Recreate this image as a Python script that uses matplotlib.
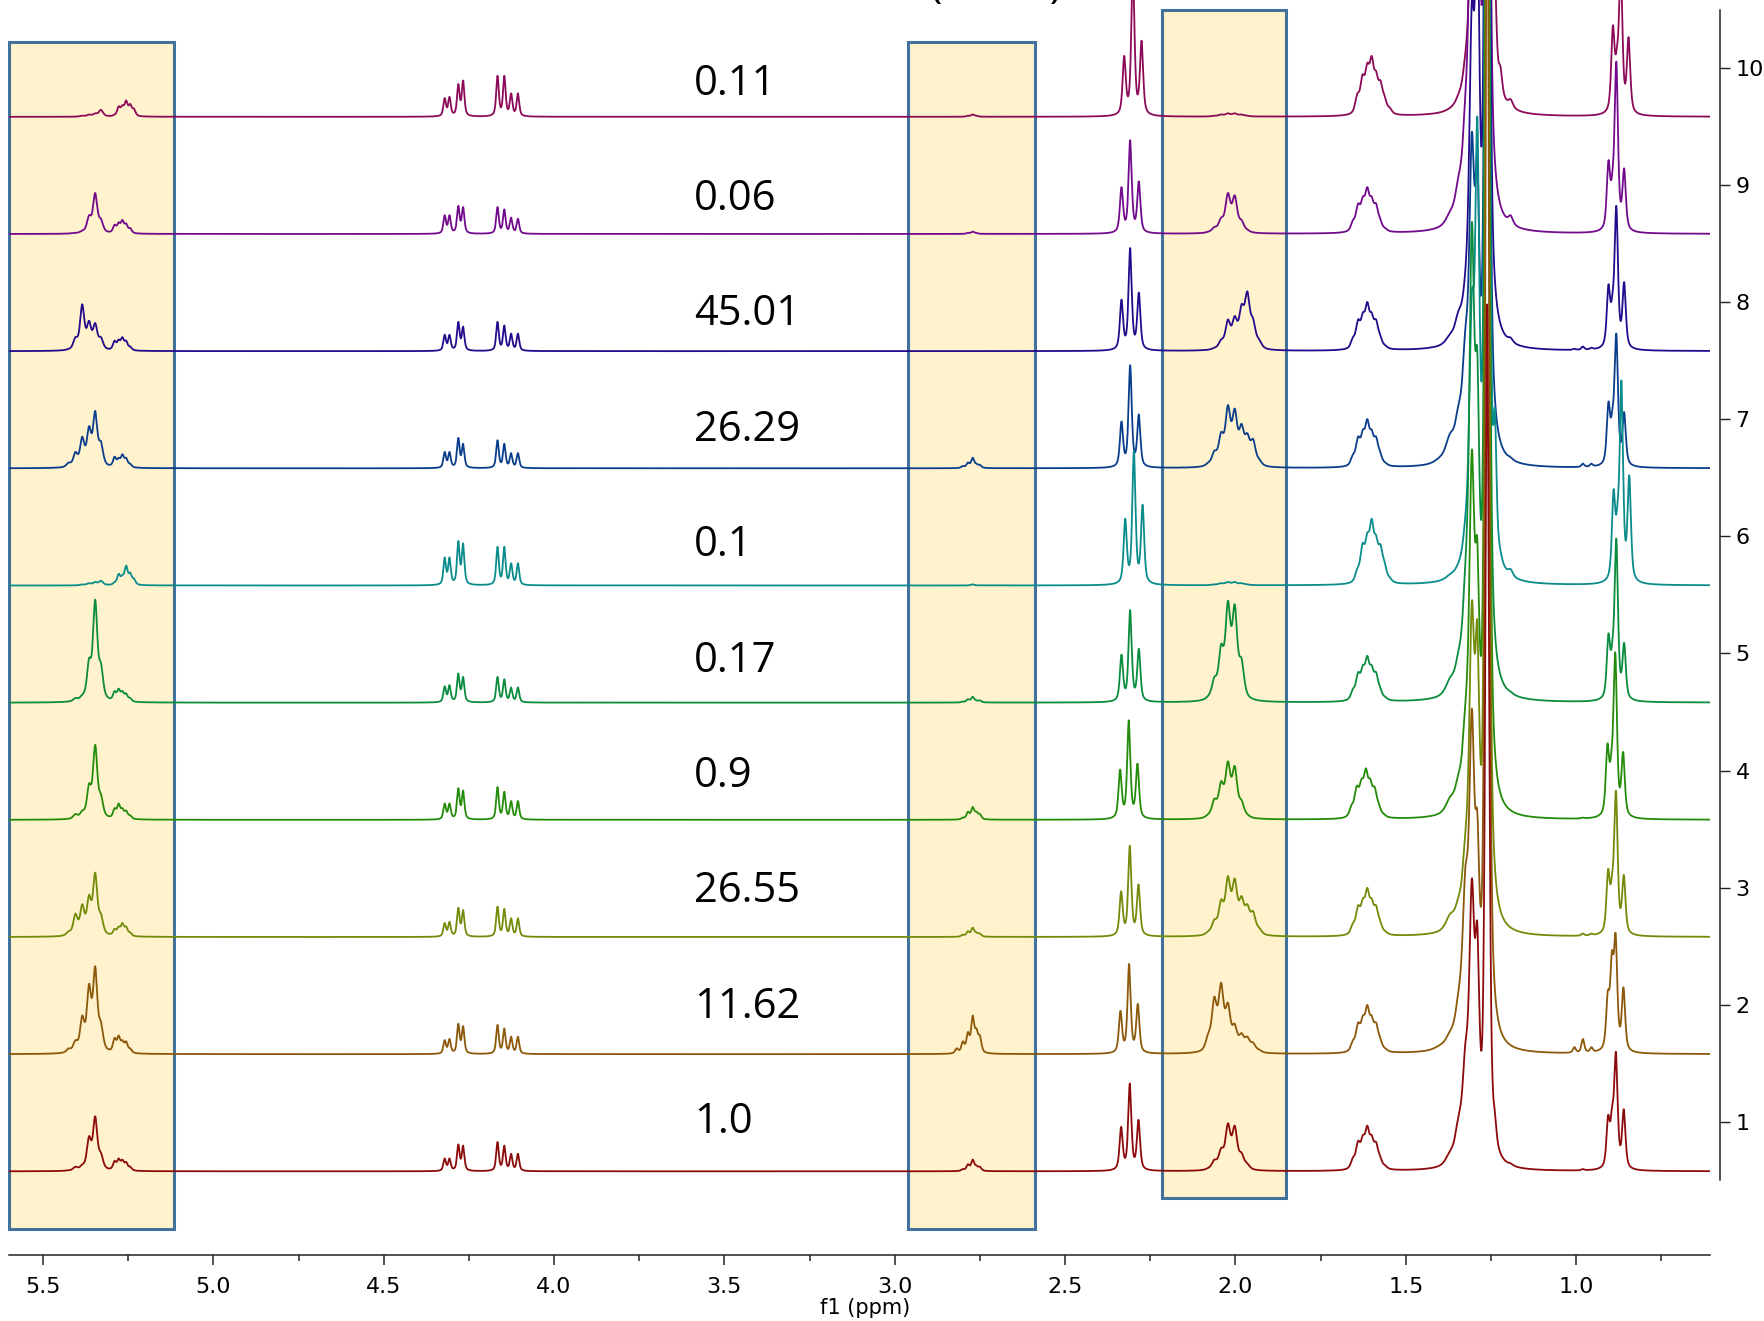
import numpy as np
import matplotlib
matplotlib.use("Agg")
import matplotlib.pyplot as plt
from matplotlib.patches import Rectangle
from matplotlib.ticker import MultipleLocator, FormatStrFormatter

# ---------------------------------------------------------------------------
# Stacked 1H NMR traces, listed from the bottom trace (1) to the top trace (10)
# ---------------------------------------------------------------------------
sample_values = ["1.0", "11.62", "26.55", "0.9", "0.17", "0.1", "26.29", "45.01", "0.06", "0.11"]
trace_colors = ["#8C0A0A", "#8C580A", "#728C0A", "#248C0A", "#0A8C3E",
                "#0A8C8C", "#0A3E8C", "#240A8C", "#720A8C", "#8C0A58"]

# olefinic CH=CH (5.3-5.4) and glycerol sn-2 CH (5.23-5.29): shifts and heights
olefin_ppm = [5.425, 5.405, 5.385, 5.365, 5.347, 5.33, 5.29, 5.278, 5.267, 5.256, 5.244, 5.233]
olefin_int = [
    [0.01, 0.04, 0.06, 0.30, 0.47, 0.16, 0.09, 0.11, 0.10, 0.08, 0.04, 0.01],
    [0.05, 0.12, 0.33, 0.60, 0.75, 0.28, 0.14, 0.16, 0.12, 0.11, 0.05, 0.01],
    [0.05, 0.20, 0.28, 0.36, 0.55, 0.20, 0.07, 0.09, 0.12, 0.09, 0.04, 0.01],
    [0.01, 0.05, 0.08, 0.31, 0.64, 0.22, 0.10, 0.14, 0.10, 0.08, 0.04, 0.01],
    [0.01, 0.04, 0.07, 0.38, 0.88, 0.34, 0.10, 0.12, 0.10, 0.08, 0.04, 0.01],
    [0.00, 0.00, 0.01, 0.02, 0.03, 0.04, 0.03, 0.10, 0.09, 0.17, 0.11, 0.06],
    [0.05, 0.14, 0.27, 0.36, 0.49, 0.23, 0.10, 0.09, 0.12, 0.09, 0.04, 0.01],
    [0.02, 0.12, 0.40, 0.26, 0.24, 0.12, 0.09, 0.10, 0.12, 0.09, 0.04, 0.01],
    [0.00, 0.01, 0.03, 0.16, 0.35, 0.13, 0.08, 0.10, 0.12, 0.09, 0.05, 0.01],
    [0.00, 0.00, 0.01, 0.02, 0.03, 0.06, 0.02, 0.09, 0.10, 0.14, 0.11, 0.07],
]

# glycerol sn-1,3 CH2 (two doublets of doublets)
glycerol_ppm = [4.321, 4.307, 4.281, 4.267, 4.166, 4.146, 4.126, 4.106]
glycerol_int = [
    [0.11, 0.11, 0.23, 0.22, 0.25, 0.22, 0.15, 0.15],
    [0.12, 0.13, 0.26, 0.24, 0.25, 0.22, 0.15, 0.15],
    [0.12, 0.13, 0.25, 0.23, 0.26, 0.24, 0.16, 0.16],
    [0.14, 0.14, 0.27, 0.25, 0.28, 0.24, 0.16, 0.16],
    [0.14, 0.15, 0.25, 0.22, 0.22, 0.20, 0.13, 0.13],
    [0.24, 0.24, 0.38, 0.36, 0.33, 0.33, 0.19, 0.19],
    [0.14, 0.14, 0.26, 0.21, 0.24, 0.21, 0.13, 0.13],
    [0.14, 0.14, 0.25, 0.21, 0.25, 0.22, 0.15, 0.15],
    [0.16, 0.16, 0.24, 0.23, 0.23, 0.21, 0.14, 0.13],
    [0.16, 0.17, 0.28, 0.31, 0.35, 0.35, 0.20, 0.20],
]

# bis-allylic CH2 (~2.77)
bisallyl_ppm = [2.818, 2.80, 2.785, 2.771, 2.76, 2.75]
bisallyl_int = [
    [0.00, 0.02, 0.06, 0.10, 0.05, 0.04],
    [0.05, 0.11, 0.19, 0.33, 0.22, 0.16],
    [0.00, 0.02, 0.05, 0.08, 0.04, 0.03],
    [0.00, 0.02, 0.07, 0.11, 0.07, 0.05],
    [0.00, 0.01, 0.03, 0.05, 0.02, 0.02],
    [0.00, 0.00, 0.00, 0.01, 0.00, 0.00],
    [0.00, 0.02, 0.05, 0.09, 0.04, 0.03],
    [0.00, 0.00, 0.00, 0.00, 0.00, 0.00],
    [0.00, 0.00, 0.01, 0.02, 0.01, 0.00],
    [0.00, 0.00, 0.01, 0.02, 0.01, 0.00],
]

# CH2-COO triplet (~2.31): centre shift per trace, line heights (low-field, centre, high-field)
ester_center = [2.310, 2.312, 2.310, 2.313, 2.309, 2.298, 2.309, 2.309, 2.309, 2.301]
ester_split = [0.0255, 0.0, -0.0255]
ester_int = [
    [0.38, 0.75, 0.44],
    [0.37, 0.77, 0.43],
    [0.39, 0.78, 0.45],
    [0.43, 0.85, 0.48],
    [0.41, 0.79, 0.46],
    [0.57, 1.15, 0.69],
    [0.40, 0.88, 0.46],
    [0.44, 0.88, 0.50],
    [0.40, 0.80, 0.45],
    [0.52, 1.25, 0.65],
]

# allylic CH2 (~2.0)
allyl_ppm = [2.08, 2.062, 2.042, 2.022, 2.002, 1.982, 1.965, 1.948, 1.93]
allyl_int = [
    [0.03, 0.10, 0.20, 0.41, 0.39, 0.16, 0.07, 0.02, 0.00],
    [0.18, 0.49, 0.61, 0.44, 0.26, 0.18, 0.15, 0.10, 0.04],
    [0.05, 0.15, 0.32, 0.52, 0.50, 0.35, 0.28, 0.22, 0.08],
    [0.05, 0.18, 0.33, 0.50, 0.46, 0.17, 0.05, 0.02, 0.00],
    [0.06, 0.22, 0.50, 0.87, 0.84, 0.38, 0.08, 0.02, 0.00],
    [0.00, 0.01, 0.02, 0.03, 0.03, 0.02, 0.01, 0.00, 0.00],
    [0.05, 0.15, 0.31, 0.54, 0.51, 0.38, 0.30, 0.25, 0.08],
    [0.01, 0.03, 0.10, 0.27, 0.30, 0.40, 0.51, 0.28, 0.10],
    [0.02, 0.06, 0.14, 0.35, 0.33, 0.12, 0.04, 0.01, 0.00],
    [0.00, 0.01, 0.02, 0.03, 0.03, 0.02, 0.01, 0.00, 0.00],
]

# beta-CH2 multiplet (~1.61): centre shift per trace and heights
beta_center = [1.613, 1.613, 1.613, 1.617, 1.613, 1.600, 1.613, 1.613, 1.613, 1.600]
beta_split = [0.042, 0.027, 0.013, 0.0, -0.013, -0.026, -0.038, -0.053]
beta_int = [
    [0.12, 0.26, 0.31, 0.39, 0.31, 0.25, 0.13, 0.05],
    [0.12, 0.27, 0.33, 0.42, 0.33, 0.27, 0.14, 0.05],
    [0.12, 0.27, 0.33, 0.42, 0.33, 0.27, 0.14, 0.05],
    [0.13, 0.29, 0.35, 0.44, 0.35, 0.28, 0.14, 0.05],
    [0.12, 0.26, 0.32, 0.40, 0.32, 0.26, 0.13, 0.05],
    [0.15, 0.36, 0.45, 0.57, 0.43, 0.35, 0.20, 0.07],
    [0.12, 0.27, 0.33, 0.42, 0.33, 0.27, 0.14, 0.05],
    [0.12, 0.27, 0.33, 0.42, 0.33, 0.27, 0.14, 0.05],
    [0.12, 0.26, 0.32, 0.40, 0.32, 0.26, 0.13, 0.05],
    [0.20, 0.36, 0.46, 0.52, 0.39, 0.31, 0.18, 0.08],
]

# bulk (CH2)n envelope (1.19-1.40)
chain_ppm = [1.40, 1.37, 1.345, 1.325, 1.306, 1.29, 1.261, 1.238, 1.222, 1.192]
chain_width = [0.020, 0.015, 0.012, 0.010, 0.009, 0.007, 0.0065, 0.005, 0.006, 0.008]
chain_int = [
    [0.02, 0.18, 0.48, 1.10, 2.50, 2.12, 7.4, 0.50, 0.12, 0.07],
    [0.08, 0.20, 0.55, 1.60, 2.95, 2.07, 11.0, 0.40, 0.15, 0.08],
    [0.05, 0.20, 0.35, 0.90, 2.87, 2.70, 12.0, 0.40, 0.12, 0.08],
    [0.05, 0.20, 0.40, 1.00, 3.16, 2.40, 12.0, 0.40, 0.12, 0.08],
    [0.05, 0.22, 0.45, 1.20, 4.10, 3.00, 12.0, 0.45, 0.15, 0.10],
    [0.03, 0.10, 0.20, 0.60, 2.50, 4.00, 12.0, 1.50, 0.30, 0.14],
    [0.10, 0.30, 0.55, 1.20, 2.87, 2.69, 12.0, 0.45, 0.15, 0.10],
    [0.05, 0.15, 0.35, 0.70, 3.00, 4.00, 12.0, 0.45, 0.19, 0.12],
    [0.05, 0.20, 0.50, 1.20, 4.00, 5.00, 12.0, 0.60, 0.22, 0.16],
    [0.02, 0.08, 0.20, 0.55, 2.00, 4.00, 12.0, 1.20, 0.43, 0.15],
]

# terminal CH3 triplet (~0.88): centre shift per trace and heights
methyl_center = [0.883, 0.884, 0.883, 0.885, 0.882, 0.867, 0.882, 0.882, 0.882, 0.869]
methyl_split = [0.023, 0.011, 0.0, -0.023]
methyl_int = [
    [0.48, 0.57, 1.02, 0.53],
    [0.54, 0.88, 1.03, 0.57],
    [0.58, 0.55, 1.25, 0.53],
    [0.65, 0.60, 1.43, 0.58],
    [0.59, 0.55, 1.40, 0.51],
    [0.82, 0.72, 1.75, 0.94],
    [0.57, 0.52, 1.15, 0.48],
    [0.57, 0.50, 1.24, 0.59],
    [0.63, 0.55, 1.47, 0.56],
    [0.78, 0.60, 1.30, 0.68],
]

# linolenic CH3 triplet (~0.98)
linolenic_ppm = [1.005, 0.98, 0.955]
linolenic_int = [
    [0.00, 0.02, 0.01],
    [0.06, 0.13, 0.06],
    [0.01, 0.03, 0.03],
    [0.00, 0.02, 0.01],
    [0.00, 0.01, 0.00],
    [0.00, 0.00, 0.00],
    [0.01, 0.04, 0.04],
    [0.02, 0.04, 0.03],
    [0.00, 0.01, 0.00],
    [0.00, 0.01, 0.00],
]

# highlighted regions: (high ppm, low ppm, bottom, top) in axis units
highlight_boxes = [(5.60, 5.117, 0.088, 10.22),
                   (2.961, 2.588, 0.088, 10.22),
                   (2.215, 1.851, 0.355, 10.49)]


def line_shape(x, x0, w, eta=0.6):
    """Pseudo-Voigt line of unit height with half width w."""
    u = ((x - x0) / w) ** 2
    return eta / (1.0 + u) + (1.0 - eta) * np.exp(-np.log(2.0) * u)


def solve_amplitudes(pos, val, wid, iters=3000):
    """Non-negative line amplitudes so the summed trace passes through the given heights."""
    pos = np.asarray(pos, float)
    val = np.asarray(val, float)
    wid = np.asarray(wid, float)
    A = line_shape(pos[:, None], pos[None, :], wid[None, :])
    aty = A.T @ val
    ata = A.T @ A
    amp = val.copy()
    for _ in range(iters):
        amp *= aty / np.maximum(ata @ amp, 1e-12)
    return amp


def trace_lines(k):
    pos, val, wid = [], [], []

    def add(p, v, w):
        pos.extend(p)
        val.extend(v)
        wid.extend(w if np.ndim(w) else [w] * len(p))

    add(olefin_ppm[:6], olefin_int[k][:6], 0.0075)
    add(olefin_ppm[6:], olefin_int[k][6:], 0.0055)
    add(glycerol_ppm, glycerol_int[k], 0.0045)
    add(bisallyl_ppm, bisallyl_int[k], 0.0055)
    add([ester_center[k] + s for s in ester_split], ester_int[k], 0.0055)
    add(allyl_ppm, allyl_int[k], 0.0088)
    add([beta_center[k] + s for s in beta_split], beta_int[k], 0.0075)
    add(chain_ppm, chain_int[k], list(chain_width))
    add([methyl_center[k] + s for s in methyl_split], methyl_int[k], 0.0058)
    add(linolenic_ppm, linolenic_int[k], 0.005)
    return np.array(pos), np.array(val), np.array(wid)


ppm = np.linspace(0.55, 5.65, 26000)
n_traces = len(sample_values)
baselines = np.arange(n_traces) + 0.58
label_rows = 9.77 - 0.985 * (n_traces - 1 - np.arange(n_traces))

fig = plt.figure(figsize=(17.65, 13.21), dpi=100)
ax = fig.add_axes([9 / 1765, 66 / 1321, 1701 / 1765, 1255 / 1321])
ax.set_xlim(5.60, 0.607)
ax.set_ylim(-0.134, 10.577)

for hi, lo, y0, y1 in highlight_boxes:
    ax.add_patch(Rectangle((lo, y0), hi - lo, y1 - y0, facecolor="#FFF2CC",
                           edgecolor="#41719C", linewidth=2.2, zorder=1, clip_on=False))

for k in reversed(range(n_traces)):
    pos, val, wid = trace_lines(k)
    amp = solve_amplitudes(pos, val, wid)
    y = np.zeros_like(ppm)
    for p, a, w in zip(pos, amp, wid):
        if a > 0:
            y += a * line_shape(ppm, p, w)
    ax.plot(ppm, baselines[k] + y, color=trace_colors[k], lw=1.3, zorder=3 + (n_traces - k),
            solid_joinstyle="round")
    ax.text(3.59, label_rows[k], sample_values[k], fontsize=30, family=["Open Sans", "DejaVu Sans"],
            ha="left", va="baseline", color="black", zorder=20)

# axes styling
for side in ("left", "top"):
    ax.spines[side].set_visible(False)
ax.spines["bottom"].set_linewidth(1.1)
ax.spines["bottom"].set_color("#222222")
ax.spines["right"].set_linewidth(1.1)
ax.spines["right"].set_color("#222222")
ax.spines["right"].set_position(("axes", (1720 - 9) / 1701))
ax.spines["right"].set_bounds(0.505, 10.49)

ax.yaxis.tick_right()
ax.set_yticks(range(1, 11))
ax.tick_params(axis="y", direction="out", length=7.2, width=1.0, pad=4, labelsize=16,
               colors="#222222", labelcolor="black")
ax.xaxis.set_major_locator(MultipleLocator(0.5))
ax.xaxis.set_minor_locator(MultipleLocator(0.25))
ax.xaxis.set_major_formatter(FormatStrFormatter("%.1f"))
ax.tick_params(axis="x", which="major", direction="out", length=7.5, width=1.1, pad=8,
               labelsize=16, colors="#222222", labelcolor="black")
ax.tick_params(axis="x", which="minor", direction="out", length=4, width=1.1, colors="#222222")

fig.text(865 / 1765, 13 / 1321, "f1 (ppm)", fontsize=15, ha="center", va="center")
fig.text(996 / 1765, 1.0025, "(mol%)", fontsize=30, family=["Open Sans", "DejaVu Sans"],
         ha="center", va="baseline")

fig.savefig("out.png", dpi=100)
